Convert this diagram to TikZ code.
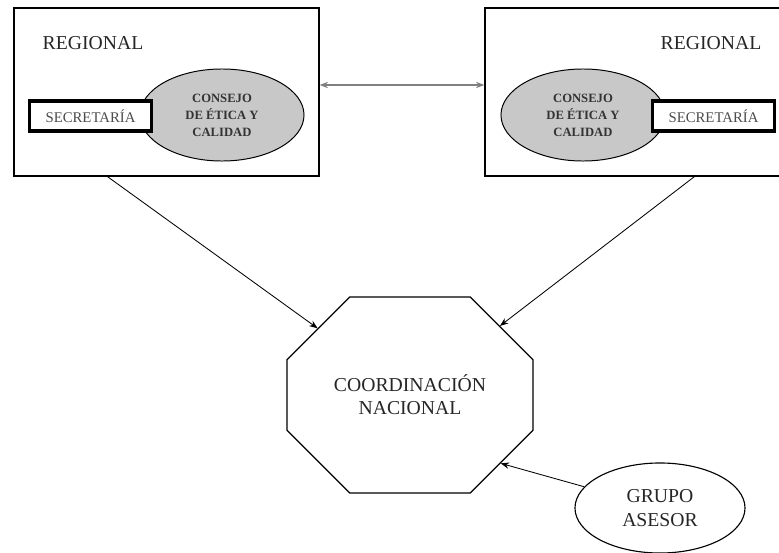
\documentclass[tikz,border=0pt]{standalone}
\usepackage{fontspec}
\setmainfont{Liberation Serif}
\usetikzlibrary{arrows.meta, shapes.geometric, shapes.misc, positioning}

\definecolor{consejogray}{RGB}{200, 200, 200}

\tikzset{
  regbox/.style={draw, line width=0.8pt, minimum width=7.625cm, minimum height=4.2cm},
  regtitle/.style={font=\fontsize{14}{16}\selectfont, text=black!85},
  consejo/.style={ellipse, draw, line width=0.7pt, fill=consejogray, minimum width=4.1cm, minimum height=2.3cm,
    font=\fontsize{9}{12}\selectfont\bfseries, align=center, text=black!80},
  secbox/.style={draw, fill=white, line width=2.5pt, minimum width=3.04cm, minimum height=0.76cm,
    font=\fontsize{10.5}{12}\selectfont, text=black!70},
  flecha/.style={-{Stealth[length=6pt,width=4.5pt]}, line width=0.6pt},
}

\begin{document}
\begin{tikzpicture}[x=0.025cm, y=-0.025cm]
  \clip (0,0) rectangle (779,553);

  % Regional boxes
  \node[regbox] (regL) at (166.5,92) {};
  \node[regbox, minimum width=7.4cm] (regR) at (633,92) {};
  \node[regtitle] (titL) at (93,43) {REGIONAL};
  \node[regtitle] (titR) at (711,43) {REGIONAL};

  % Councils and secretaries
  \node[consejo] (conL) at (222,115) {CONSEJO\\DE ÉTICA Y\\CALIDAD};
  \node[consejo] (conR) at (583,115) {CONSEJO\\DE ÉTICA Y\\CALIDAD};
  \node[secbox] (secL) at (90.5,116) {SECRETARÍA};
  \node[secbox] (secR) at (713.5,116) {SECRETARÍA};

  % National coordination
  \node[chamfered rectangle, chamfered rectangle xsep=0.95cm, chamfered rectangle ysep=0.95cm,
    draw, line width=0.8pt, minimum width=6.15cm, minimum height=4.9cm, align=center,
    font=\fontsize{14}{16.5}\selectfont, text=black!85] (coord) at (410,395) {COORDINACIÓN\\NACIONAL};

  % Advisory group
  \node[ellipse, draw, line width=0.8pt, minimum width=4.25cm, minimum height=2.25cm, align=center,
    font=\fontsize{14}{16.5}\selectfont, text=black!85] (grupo) at (660,508) {GRUPO\\ASESOR};

  % Connectors
  \draw[{Stealth[length=6pt,width=4.5pt]}-{Stealth[length=6pt,width=4.5pt]}, line width=1.2pt, gray]
    ([yshift=0.175cm]regL.east) -- ([yshift=0.175cm]regR.west);
  \draw[flecha] ([xshift=2.35cm]regL.south west) -- (coord);
  \draw[flecha] ([xshift=5.25cm]regR.south west) -- (coord);
  \draw[flecha] (grupo) -- (coord.-37);
\end{tikzpicture}
\end{document}
